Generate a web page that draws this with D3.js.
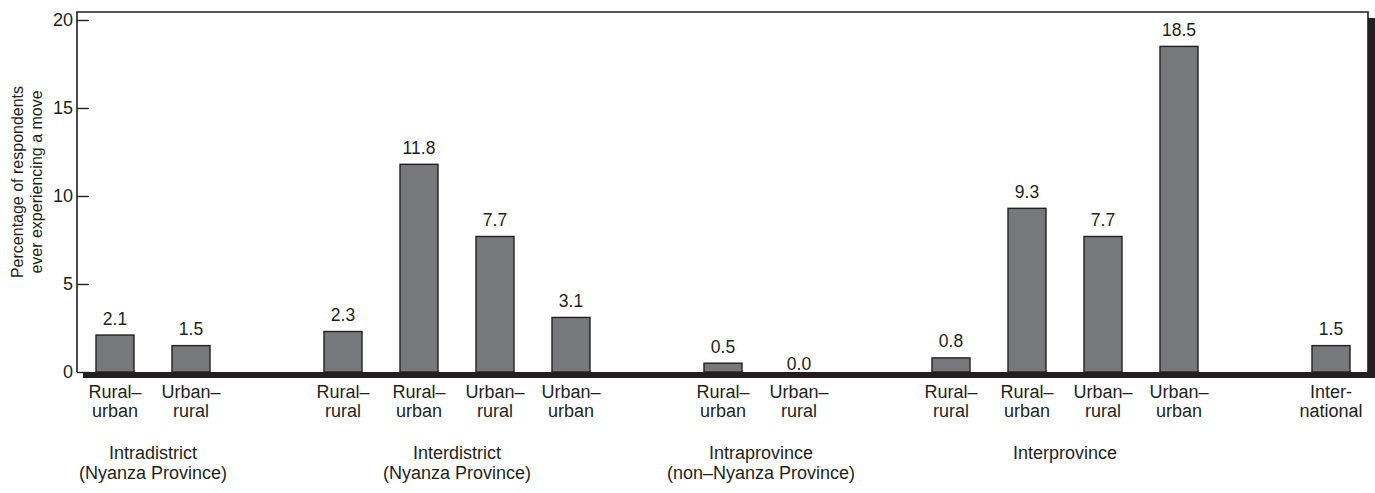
<!DOCTYPE html>
<html>
<head>
<meta charset="utf-8">
<script src="https://cdn.jsdelivr.net/npm/d3@7"></script>
<style>
  body { margin: 0; background: #fff; }
  text { font-family: "Liberation Sans", Arial, Helvetica, sans-serif; fill: #231f20; }
</style>
</head>
<body>
<script>
// bar data, in order left to right
const barLabels = [
  ["Rural–", "urban"], ["Urban–", "rural"],
  ["Rural–", "rural"], ["Rural–", "urban"], ["Urban–", "rural"], ["Urban–", "urban"],
  ["Rural–", "urban"], ["Urban–", "rural"],
  ["Rural–", "rural"], ["Rural–", "urban"], ["Urban–", "rural"], ["Urban–", "urban"],
  ["Inter-", "national"]
];
const barValues = [2.1, 1.5, 2.3, 11.8, 7.7, 3.1, 0.5, 0.0, 0.8, 9.3, 7.7, 18.5, 1.5];
const barGroup = [0, 0, 1, 1, 1, 1, 2, 2, 3, 3, 3, 3, 4];
const groupNames = [
  ["Intradistrict", "(Nyanza Province)"],
  ["Interdistrict", "(Nyanza Province)"],
  ["Intraprovince", "(non–Nyanza Province)"],
  ["Interprovince"],
  []
];
const yTicks = [0, 5, 10, 15, 20];
const yTitle = ["Percentage of respondents", "ever experiencing a move"];

const width = 1375, height = 493;
const plotL = 77, plotR = 1368, plotT = 12, plotB = 372;
const ink = "#231f20";

const svg = d3.select("body").append("svg")
  .attr("width", width)
  .attr("height", height);

// one empty slot between groups
const slot = barValues.map((d, i) => i + barGroup[i]);
const nSlots = slot[slot.length - 1] + 1;

const x = d3.scaleBand()
  .domain(d3.range(nSlots))
  .range([plotL, plotR + 1])
  .paddingInner(0.5)
  .paddingOuter(0.25);

const y = d3.scaleLinear().domain([0, 20]).range([plotB, plotB - 352]);

const cx = i => x(slot[i]) + x.bandwidth() / 2;

// frame and drop shadow
svg.append("rect")
  .attr("x", plotR).attr("y", plotT + 6)
  .attr("width", width - plotR).attr("height", plotB - plotT)
  .attr("fill", ink);
svg.append("rect")
  .attr("x", plotL + 6).attr("y", plotB)
  .attr("width", width - plotL - 6).attr("height", 6)
  .attr("fill", ink);
svg.append("path")
  .attr("d", `M${plotL},${plotB}V${plotT}H${plotR}V${plotB}`)
  .attr("fill", "none").attr("stroke", ink).attr("stroke-width", 1.6);

// y axis
const yAxis = d3.axisRight(y).tickValues(yTicks).tickSize(12).tickFormat(d3.format("d"));
const gy = svg.append("g").attr("transform", `translate(${plotL},0)`).call(yAxis);
gy.select(".domain").remove();
gy.selectAll(".tick line").attr("stroke", ink).attr("stroke-width", 1.4);
gy.selectAll(".tick text")
  .attr("x", -4).attr("text-anchor", "end")
  .attr("font-size", 18).attr("fill", ink)
  .style("font-family", "Liberation Sans, Arial, sans-serif");

// y title
const yt = svg.append("text")
  .attr("transform", `translate(23,182) rotate(-90)`)
  .attr("text-anchor", "middle")
  .attr("font-size", 16);
yt.selectAll("tspan").data(yTitle).join("tspan")
  .attr("x", 0).attr("dy", (d, i) => i ? 19 : 0)
  .text(d => d);

// bars
svg.append("g").selectAll("rect")
  .data(barValues.map((v, i) => ({ v, i })).filter(d => d.v > 0))
  .join("rect")
  .attr("x", d => x(slot[d.i]))
  .attr("y", d => y(d.v))
  .attr("width", x.bandwidth())
  .attr("height", d => y(0) - y(d.v))
  .attr("fill", "#77787b")
  .attr("stroke", ink)
  .attr("stroke-width", 1.4);

// value labels
svg.append("g").selectAll("text")
  .data(barValues)
  .join("text")
  .attr("x", (d, i) => cx(i))
  .attr("y", d => d > 0 ? y(d) - 10.5 : y(0) - 2)
  .attr("text-anchor", "middle")
  .attr("font-size", 17.5)
  .text(d => d3.format(".1f")(d));

// category labels
const cat = svg.append("g").selectAll("text")
  .data(barLabels)
  .join("text")
  .attr("text-anchor", "middle")
  .attr("font-size", 18);
cat.selectAll("tspan").data((d, i) => d.map(t => ({ t, i }))).join("tspan")
  .attr("x", d => cx(d.i))
  .attr("y", (d, j) => 398 + j * 19)
  .text(d => d.t);

// group labels
const grp = svg.append("g").selectAll("text")
  .data(groupNames)
  .join("text")
  .attr("text-anchor", "middle")
  .attr("font-size", 18);
grp.selectAll("tspan").data((d, g) => {
  const idx = barGroup.map((b, i) => b === g ? i : -1).filter(i => i >= 0);
  const mid = (cx(idx[0]) + cx(idx[idx.length - 1])) / 2;
  return d.map(t => ({ t, mid }));
}).join("tspan")
  .attr("x", d => d.mid)
  .attr("y", (d, j) => 459 + j * 20)
  .text(d => d.t);
</script>
</body>
</html>
